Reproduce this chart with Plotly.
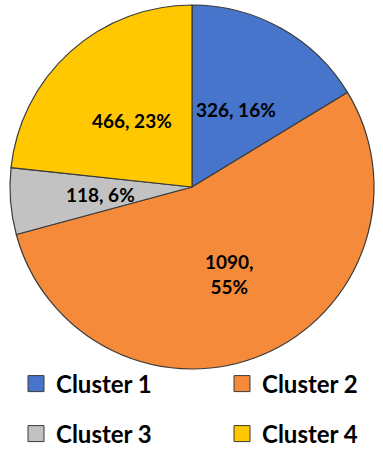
import math
import plotly.graph_objects as go

categories = ["Cluster 1", "Cluster 2", "Cluster 3", "Cluster 4"]
values = [326, 1090, 118, 466]
percent_labels = ["16%", "55%", "6%", "23%"]

# ---- styling (not data) ----
colors = ["#4675CB", "#F68A3B", "#C2C2C2", "#FFC800"]
legend_ids = ["legend", "legend2", "legend3", "legend4"]
legend_col = [0, 1, 0, 1]
legend_row = [0, 0, 1, 1]
label_radius_frac = [0.49, 0.52, 0.505, 0.49]
label_breaks = [False, True, False, False]

W, H = 383, 449
px0, px1 = 10, 374     # pie horizontal extent in pixels
py0, py1 = 5, 369      # pie vertical extent in pixels

fig = go.Figure()
fig.add_trace(go.Pie(
    labels=categories,
    values=values,
    textinfo="none",
    sort=False,
    direction="clockwise",
    rotation=0,
    marker=dict(colors=colors, line=dict(color="#3A3A3A", width=1.2)),
    domain=dict(x=[px0 / W, px1 / W], y=[1 - py1 / H, 1 - py0 / H]),
    showlegend=False,
    hoverinfo="label+value+percent",
))

# data labels placed at each slice's mid-angle (derived from the values)
cx = (px0 + px1) / 2
cy = (py0 + py1) / 2
r = min(px1 - px0, py1 - py0) / 2
total = sum(values)
cum = 0
for v, p, f, br in zip(values, percent_labels, label_radius_frac, label_breaks):
    theta = 2 * math.pi * (cum + v / 2) / total
    cum += v
    lx = cx + f * r * math.sin(theta)
    ly = cy - f * r * math.cos(theta)
    txt = f"{v},<br>{p}" if br else f"{v}, {p}"
    fig.add_annotation(
        x=lx / W, y=1 - ly / H, xref="paper", yref="paper",
        text=txt, showarrow=False, xanchor="center", yanchor="middle",
        font=dict(family="Lato", size=19, color="black", weight="bold"),
    )

for c, col, lg in zip(categories, colors, legend_ids):
    fig.add_trace(go.Scatter(
        x=[None], y=[None], mode="markers", name=c,
        marker=dict(symbol="square", size=16, color=col,
                    line=dict(color="#3A3A3A", width=1)),
        legend=lg, showlegend=True, hoverinfo="skip",
    ))

legend_common = dict(
    orientation="h",
    xanchor="left", yanchor="middle",
    xref="container", yref="container",
    font=dict(family="Lato", size=24, color="black", weight="bold"),
    itemwidth=30,
    bgcolor="rgba(0,0,0,0)",
)
col_x = [16 / W, 222 / W]
row_y = [1 - 384 / H, 1 - 434 / H]
legend_layout = {}
for lg, ci, ri in zip(legend_ids, legend_col, legend_row):
    legend_layout[lg] = dict(x=col_x[ci], y=row_y[ri], **legend_common)

fig.update_layout(
    width=W, height=H,
    autosize=False,
    margin=dict(l=0, r=0, t=0, b=0, autoexpand=False),
    paper_bgcolor="white",
    plot_bgcolor="white",
    xaxis=dict(visible=False),
    yaxis=dict(visible=False),
    **legend_layout,
)

fig.write_html(
    "out.html",
    config={"displayModeBar": False, "responsive": False},
    default_width=f"{W}px", default_height=f"{H}px",
    post_script="document.body.style.margin='0';document.body.style.overflow='hidden';",
)
